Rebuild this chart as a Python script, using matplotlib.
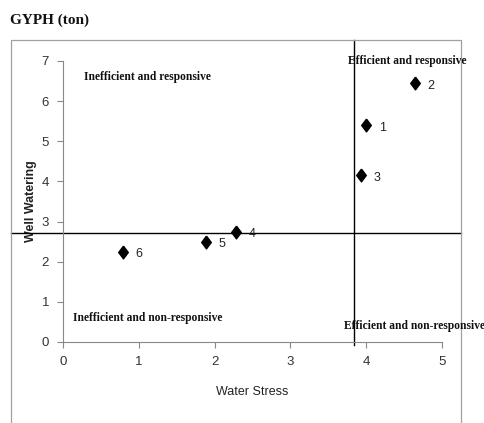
import matplotlib.pyplot as plt
from matplotlib.patches import Rectangle

# well data
well_ids = ['1', '2', '3', '4', '5', '6']
water_stress = [4.00, 4.64, 3.93, 2.28, 1.89, 0.79]
well_watering = [5.40, 6.45, 4.15, 2.75, 2.50, 2.25]

# quadrant split lines
stress_cut = 3.84
watering_cut = 2.72

fig = plt.figure(figsize=(4.84, 4.23), dpi=100)
ax = fig.add_axes([0.130, 0.1915, 0.783, 0.6645])

# outer chart frame
fig.patches.append(Rectangle((0.0227, -0.05), 0.93, 0.955, transform=fig.transFigure,
                             fill=False, edgecolor='#a0a0a0', linewidth=0.9))

# diamond a bit taller than wide, like the excel marker
diamond = [(0, 1), (0.75, 0), (0, -1), (-0.75, 0), (0, 1)]
ax.scatter(water_stress, well_watering, marker=diamond, s=85, color='black', zorder=3)
for i, lab in enumerate(well_ids):
    ax.annotate(lab, (water_stress[i], well_watering[i]), xytext=(9, -4),
                textcoords='offset points', fontsize=9, family='Liberation Sans',
                color='#222222')

ax.axhline(watering_cut, xmin=-0.137, xmax=1.05, color='black', lw=1.0, clip_on=False)
ax.axvline(stress_cut, ymin=-0.012, ymax=1.075, color='black', lw=1.0, clip_on=False)

ax.set_xlim(0, 5)
ax.set_ylim(0, 7)
ax.set_xticks(range(0, 6))
ax.set_yticks(range(0, 8))
for s in ['top', 'right']:
    ax.spines[s].set_visible(False)
for s in ['left', 'bottom']:
    ax.spines[s].set_color('#888888')
ax.tick_params(colors='#888888', labelcolor='#333333', labelsize=9.5, length=4, pad=6)
for t in ax.get_xticklabels() + ax.get_yticklabels():
    t.set_family('Liberation Sans')

ax.set_xlabel('Water Stress', fontsize=9, family='Liberation Sans', color='#222222', labelpad=13)
ax.set_ylabel('Well Watering', fontsize=9, family='Liberation Sans', fontweight='bold',
              color='#222222', labelpad=3)

qfont = dict(family='Liberation Serif', fontweight='bold', fontsize=8.3, color='#111111')
fig.text(0.174, 0.818, 'Inefficient and responsive', va='center', **qfont)
fig.text(0.719, 0.856, 'Efficient and responsive', va='center', **qfont)
fig.text(0.151, 0.248, 'Inefficient and non-responsive', va='center', **qfont)
fig.text(0.711, 0.229, 'Efficient and non-responsive', va='center', **qfont)

fig.text(0.021, 0.952, 'GYPH (ton)', family='Liberation Serif', fontweight='bold',
         fontsize=11, va='center', color='#111111')

fig.savefig('out.png', dpi=100)
